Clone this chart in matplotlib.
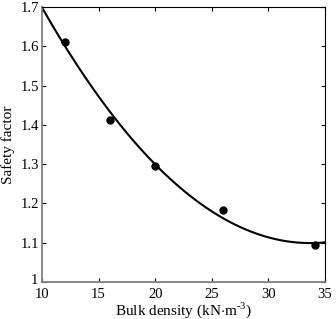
import numpy as np
import matplotlib
matplotlib.use("Agg")
import matplotlib.pyplot as plt
import matplotlib.transforms as mtransforms

plt.rcParams['font.family'] = ['Liberation Serif', 'DejaVu Serif']
plt.rcParams['mathtext.fontset'] = 'custom'
plt.rcParams['mathtext.rm'] = 'Liberation Serif'

# ---------- data ----------
density = [12, 16, 20, 26, 34.1]                 # kN/m3
safety = [1.610, 1.413, 1.295, 1.183, 1.095]

# fitted trend, sampled from the drawn curve
curve_x = [10, 15, 20, 25, 30, 35]
curve_y = [1.70, 1.47, 1.30, 1.18, 1.115, 1.10]

xticks = [10, 15, 20, 25, 30, 35]
yticks = [1, 1.1, 1.2, 1.3, 1.4, 1.5, 1.6, 1.7]

# ---------- plot ----------
coef = np.polyfit(curve_x, curve_y, 2)
xs = np.linspace(10, 35, 200)

fig = plt.figure(figsize=(3.36, 3.19), dpi=100)
ax = fig.add_axes([0.125, 0.116, 0.842, 0.862])

ax.plot(xs, np.polyval(coef, xs), color='black', lw=1.5)
ax.plot(density, safety, 'o', color='black', ms=5)

ax.set_xlim(10, 35)
ax.set_ylim(1, 1.7)
ax.set_xticks(xticks)
ax.set_yticks(yticks)
ax.set_yticklabels([f"{v:g}" for v in yticks])
ax.tick_params(direction='in', top=True, right=True, length=3, labelsize=10.5)
ax.tick_params(axis='y', pad=2)
ax.tick_params(axis='x', pad=4)

# nudge the "1" up a little so it does not collide with "10"
lab0 = ax.get_yticklabels()[0]
lab0.set_transform(lab0.get_transform() + mtransforms.ScaledTranslation(-1 / 100, 3 / 100, fig.dpi_scale_trans))

for s in ['left', 'bottom']:
    ax.spines[s].set_color('#808080')
    ax.spines[s].set_linewidth(1.3)
for s in ['top', 'right']:
    ax.spines[s].set_linewidth(0.8)

ax.set_xlabel(r"Bulk density (kN$\cdot$m$^{\mathrm{\text{-}3}}$)", fontsize=11, labelpad=0)
ax.set_ylabel("Safety factor", fontsize=11, labelpad=4)

fig.savefig("out.png", dpi=100)
